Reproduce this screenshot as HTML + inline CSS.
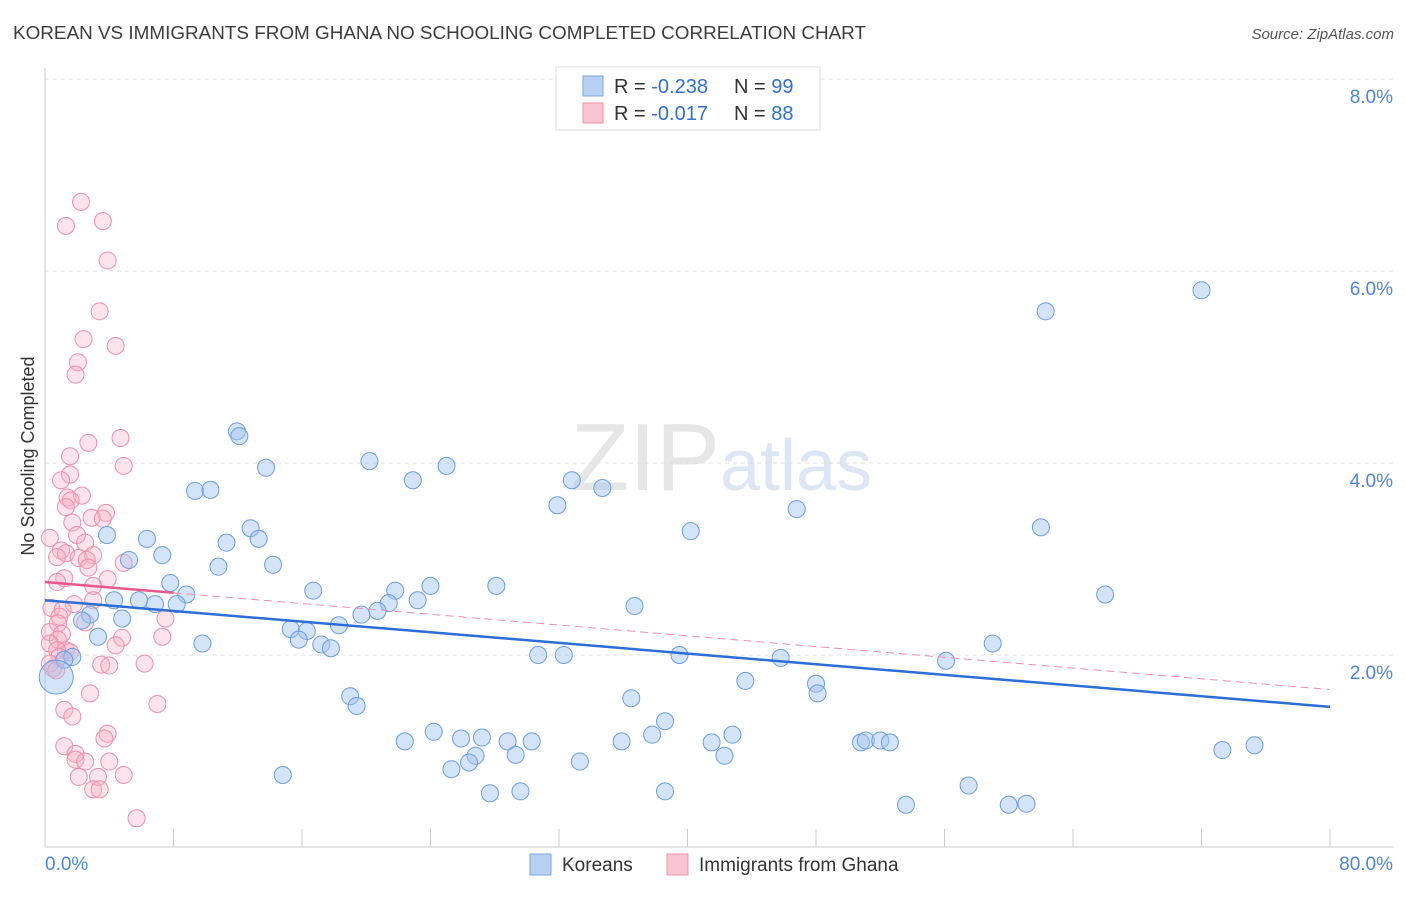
<!DOCTYPE html>
<html><head><meta charset="utf-8"><style>
body{margin:0;background:#fff;font-family:"Liberation Sans",sans-serif;}
svg text{font-family:"Liberation Sans",sans-serif;}
</style></head><body>
<svg id="chart" width="1406" height="892" xmlns="http://www.w3.org/2000/svg">
<text x="13" y="39" font-size="18" fill="#3c3c3c" textLength="853" lengthAdjust="spacingAndGlyphs">KOREAN VS IMMIGRANTS FROM GHANA NO SCHOOLING COMPLETED CORRELATION CHART</text>
<text x="1394" y="39" font-size="15" fill="#555" font-style="italic" text-anchor="end">Source: ZipAtlas.com</text>
<text x="720" y="490" font-size="96" fill="#e6e6e6" text-anchor="end" font-family="Liberation Serif">ZIP</text>
<text x="720" y="490" font-size="72" fill="#dce6f5">atlas</text>
<g id="grid"></g>
<g id="axes"></g>
<g id="pts"></g>
<g id="trend"></g>
<text transform="translate(34,456) rotate(-90)" font-size="18" fill="#333" text-anchor="middle">No Schooling Completed</text>
<g>
<rect x="556" y="67" width="264" height="63" fill="#fff" stroke="#ddd"/>
<rect x="583" y="76" width="20" height="20" fill="#b8d0f2" stroke="#7aa6e2"/>
<rect x="583" y="103" width="20" height="20" fill="#f8c4d2" stroke="#f095b0"/>
<text x="614" y="93" font-size="20" fill="#333">R = <tspan fill="#2e6fd8">-0.238</tspan></text>
<text x="734" y="93" font-size="20" fill="#333">N = <tspan fill="#2e6fd8">99</tspan></text>
<text x="614" y="120" font-size="20" fill="#333">R = <tspan fill="#2e6fd8">-0.017</tspan></text>
<text x="734" y="120" font-size="20" fill="#333">N = <tspan fill="#2e6fd8">88</tspan></text>
</g>
<g>
<rect x="530" y="854" width="21" height="21" fill="#b8d0f2" stroke="#7aa6e2"/>
<text x="562" y="871" font-size="19" fill="#333">Koreans</text>
<rect x="667" y="854" width="21" height="21" fill="#f8c4d2" stroke="#f095b0"/>
<text x="699" y="871" font-size="19" fill="#333">Immigrants from Ghana</text>
</g>
</svg>
<script>
const yTicks=[2,4,6,8];
const xTickLabels=["0.0%","80.0%"];
const blueX=[72.0,62.3,11.95,12.1,13.76,20.2,25.0,22.9,32.8,34.7,9.34,10.3,31.9,46.8,62.0,40.2,12.8,3.86,6.35,11.3,13.3,7.3,5.23,10.8,14.2,7.8,16.7,24.0,28.1,21.8,8.8,66.0,4.3,5.85,6.85,8.2,21.4,23.2,36.7,20.7,19.7,2.8,4.8,2.3,18.3,15.3,16.3,3.3,15.8,17.2,17.8,9.8,59.0,30.7,32.3,39.5,45.8,56.1,1.7,1.2,43.6,48.0,48.1,19.0,36.5,19.4,38.6,24.2,25.9,27.2,42.8,37.8,22.4,28.8,30.3,35.9,41.5,50.8,51.1,52.0,52.6,75.3,73.3,42.3,29.3,26.8,26.4,25.3,33.3,14.8,57.5,27.7,29.6,38.6,53.6,60.0,61.1,0.7];
const blueY=[5.80,5.58,4.33,4.28,3.95,4.02,3.97,3.82,3.82,3.74,3.71,3.72,3.56,3.52,3.33,3.29,3.32,3.25,3.21,3.17,3.21,3.04,2.99,2.92,2.94,2.75,2.67,2.72,2.72,2.67,2.63,2.63,2.57,2.57,2.53,2.53,2.54,2.57,2.51,2.46,2.42,2.42,2.38,2.36,2.31,2.27,2.25,2.19,2.16,2.11,2.07,2.12,2.12,2.0,2.0,2.0,1.97,1.94,1.98,1.95,1.73,1.70,1.60,1.57,1.55,1.47,1.31,1.20,1.13,1.14,1.17,1.17,1.10,1.10,1.10,1.10,1.09,1.09,1.11,1.11,1.09,1.06,1.01,0.95,0.96,0.95,0.88,0.81,0.89,0.75,0.64,0.56,0.58,0.58,0.44,0.44,0.45,1.77];
const pinkX=[2.24,3.6,1.3,3.9,3.4,2.4,4.4,2.05,1.9,4.7,2.7,4.9,1.56,1.56,1.0,2.3,1.4,1.6,1.3,3.8,2.9,3.6,1.7,1.99,0.3,2.5,1.0,3.0,1.3,0.75,2.1,2.6,4.9,2.7,3.9,1.2,0.75,3.0,3.0,1.8,0.4,1.1,0.9,2.5,7.5,0.8,0.3,1.05,7.3,4.8,0.8,0.3,4.4,1.3,1.56,0.75,0.9,0.3,0.5,3.5,4.0,6.2,0.7,2.8,7.0,1.2,1.7,3.9,3.7,1.2,1.9,1.9,2.5,4.0,2.1,3.3,4.9,3.0,3.4,5.7];
const pinkY=[6.72,6.52,6.47,6.11,5.58,5.29,5.22,5.05,4.92,4.26,4.21,3.97,3.88,4.07,3.82,3.66,3.64,3.61,3.54,3.48,3.43,3.42,3.38,3.25,3.22,3.17,3.09,3.04,3.06,3.02,3.01,2.99,2.96,2.91,2.79,2.80,2.76,2.72,2.57,2.53,2.49,2.47,2.40,2.34,2.38,2.33,2.24,2.22,2.19,2.18,2.16,2.12,2.10,2.05,2.03,2.05,1.98,1.91,1.86,1.90,1.89,1.91,1.84,1.60,1.49,1.43,1.36,1.18,1.13,1.05,0.97,0.91,0.89,0.89,0.73,0.73,0.75,0.60,0.60,0.30];
const blueTrend=[2.57,1.46];
const pinkTrend=[2.76,1.64];
const pinkSolidEnd=8;

const NS="http://www.w3.org/2000/svg";
const X0=45,X1=1330,Y0=847,PPY=96;
function sx(v){return X0+(X1-X0)*v/80;}
function sy(v){return Y0-v*PPY;}
function mk(tag,attrs,parent){const e=document.createElementNS(NS,tag);for(const k in attrs)e.setAttribute(k,attrs[k]);parent.appendChild(e);return e;}
const grid=document.getElementById('grid'),axes=document.getElementById('axes'),pts=document.getElementById('pts'),trend=document.getElementById('trend');
yTicks.forEach(t=>{
 const l=mk('line',{x1:X0,x2:1394,y1:sy(t),y2:sy(t),stroke:'#ddd','stroke-dasharray':'4,4'},grid);
 
 
 const tx=mk('text',{x:1393,y:sy(t)+24,'font-size':19,fill:'#4a86e0','text-anchor':'end'},axes);
 tx.textContent=t.toFixed(1)+'%';
 
 
});
mk('line',{x1:X0,x2:X0,y1:68,y2:Y0,stroke:'#ccc'},axes);
mk('line',{x1:X0,x2:1394,y1:Y0,y2:Y0,stroke:'#ccc'},axes);
for(let i=0;i<=10;i++){const l=mk('line',{x1:sx(i*8),x2:sx(i*8),y1:Y0,y2:Y0-18,stroke:'#ccc'},axes);
 
 }
const xl0=mk('text',{x:45,y:870,'font-size':19,fill:'#4a86e0'},axes);xl0.textContent=xTickLabels[0];


const xl1=mk('text',{x:1393,y:870,'font-size':19,fill:'#4a86e0','text-anchor':'end'},axes);xl1.textContent=xTickLabels[1];


pinkX.forEach((x,i)=>{const c=mk('circle',{cx:sx(x),cy:sy(pinkY[i]),r:8.5,fill:'rgba(248,175,198,0.35)',stroke:'#f08eac','stroke-width':1},pts);
 
 });
blueX.forEach((x,i)=>{const big=i===blueX.length-1;const c=mk('circle',{cx:sx(x),cy:sy(blueY[i]),r:big?17:8.5,fill:'rgba(160,195,240,0.45)',stroke:'#6a9ee2','stroke-width':1},pts);
 
 });
const bt=mk('line',{x1:sx(0),y1:sy(blueTrend[0]),x2:sx(80),y2:sy(blueTrend[1]),stroke:'#2a6fd8','stroke-width':2.5},trend);


const pAt=x=>pinkTrend[0]+(pinkTrend[1]-pinkTrend[0])*x/80;
const ps=mk('line',{x1:sx(0),y1:sy(pinkTrend[0]),x2:sx(pinkSolidEnd),y2:sy(pAt(pinkSolidEnd)),stroke:'#e8588a','stroke-width':2.5},trend);


const pd=mk('line',{x1:sx(pinkSolidEnd),y1:sy(pAt(pinkSolidEnd)),x2:sx(80),y2:sy(pinkTrend[1]),stroke:'#f08eac','stroke-width':1,'stroke-dasharray':'8,5'},trend);


</script>
</body></html>
